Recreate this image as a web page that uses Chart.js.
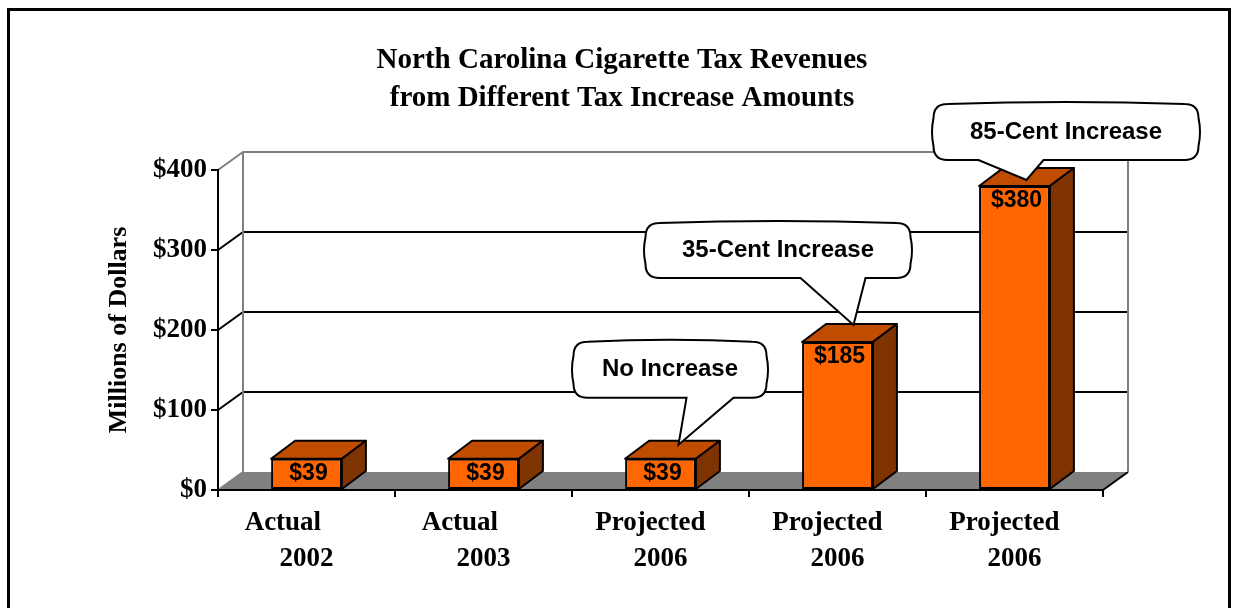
<!DOCTYPE html>
<html lang="en">
<head>
  <meta charset="UTF-8">
  <title>North Carolina Cigarette Tax Revenues</title>
  <script src="https://cdn.jsdelivr.net/npm/chart.js"></script>
  <style>
    body { margin: 0; background: #fff; }
    #wrap { width: 1235px; height: 608px; }
  </style>
</head>
<body>
  <div id="wrap"><canvas id="taxChart"></canvas></div>

  <script>
    // chart data
    const labelTop = ['Actual', 'Actual', 'Projected', 'Projected', 'Projected'];
    const labelYear = ['2002', '2003', '2006', '2006', '2006'];
    const revenues = [39, 39, 39, 185, 380];
    const yMax = 400;
    const yStep = 100;
    const calloutIndex = [2, 3, 4];
    const calloutText = ['No Increase', '35-Cent Increase', '85-Cent Increase'];

    const serif = "'Liberation Serif', 'Times New Roman', serif";
    const sans = "'Liberation Sans', Arial, sans-serif";

    // depth of the 3d look
    const wallDX = 25, wallDY = -18;
    const barDX = 24, barDY = -18;

    // callout placement, relative to the bar top (tip) and to the tip (box)
    const calloutLayout = [
      { tip: [18, -14], box: [-105, -103, 193, 56], tail: [113, 160] },
      { tip: [16, -17], box: [-208, -102, 265, 55], tail: [155, 220] },
      { tip: [12, -6],  box: [-93, -76, 265, 56],   tail: [45, 110] }
    ];

    const threeD = {
      id: 'threeD',
      beforeDraw(chart) {
        const ctx = chart.ctx;
        const a = chart.chartArea;
        const y = chart.scales.y;
        ctx.save();
        // floor
        ctx.fillStyle = '#808080';
        ctx.beginPath();
        ctx.moveTo(a.left, a.bottom);
        ctx.lineTo(a.right, a.bottom);
        ctx.lineTo(a.right + wallDX, a.bottom + wallDY);
        ctx.lineTo(a.left + wallDX, a.bottom + wallDY);
        ctx.closePath();
        ctx.fill();
        ctx.strokeStyle = '#000';
        ctx.lineWidth = 2;
        ctx.beginPath();
        ctx.moveTo(a.right, a.bottom);
        ctx.lineTo(a.right + wallDX, a.bottom + wallDY);
        ctx.stroke();

        // gridlines on the back wall and the side connectors
        for (let v = yStep; v < yMax; v += yStep) {
          const py = y.getPixelForValue(v);
          ctx.beginPath();
          ctx.moveTo(a.left, py);
          ctx.lineTo(a.left + wallDX, py + wallDY);
          ctx.lineTo(a.right + wallDX, py + wallDY);
          ctx.stroke();
        }

        // wall edges
        ctx.strokeStyle = '#808080';
        ctx.beginPath();
        ctx.moveTo(a.left, a.top);
        ctx.lineTo(a.left + wallDX, a.top + wallDY);
        ctx.lineTo(a.right + wallDX, a.top + wallDY);
        ctx.lineTo(a.right + wallDX, a.bottom + wallDY);
        ctx.moveTo(a.left + wallDX, a.top + wallDY);
        ctx.lineTo(a.left + wallDX, a.bottom + wallDY);
        ctx.moveTo(a.left, a.bottom);
        ctx.lineTo(a.left + wallDX, a.bottom + wallDY);
        ctx.stroke();
        ctx.restore();
      },
      afterDatasetsDraw(chart) {
        const ctx = chart.ctx;
        const bars = chart.getDatasetMeta(0).data;
        ctx.save();
        ctx.lineWidth = 2;
        ctx.strokeStyle = '#000';
        ctx.lineJoin = 'round';
        bars.forEach((bar, i) => {
          const L = bar.x - bar.width / 2, R = bar.x + bar.width / 2;
          const T = bar.y, B = bar.base;
          // top face
          ctx.fillStyle = '#C04C00';
          ctx.beginPath();
          ctx.moveTo(L, T);
          ctx.lineTo(L + barDX, T + barDY);
          ctx.lineTo(R + barDX, T + barDY);
          ctx.lineTo(R, T);
          ctx.closePath();
          ctx.fill();
          ctx.stroke();
          // side face
          ctx.fillStyle = '#7F3300';
          ctx.beginPath();
          ctx.moveTo(R, T);
          ctx.lineTo(R + barDX, T + barDY);
          ctx.lineTo(R + barDX, B + barDY);
          ctx.lineTo(R, B);
          ctx.closePath();
          ctx.fill();
          ctx.stroke();
          // value label
          ctx.fillStyle = '#000';
          ctx.font = 'bold 23px ' + sans;
          ctx.textAlign = 'center';
          ctx.textBaseline = 'middle';
          ctx.fillText('$' + revenues[i], bar.x + 2, T + 15);
        });
        ctx.restore();
      },
      afterDraw(chart) {
        const ctx = chart.ctx;
        const bars = chart.getDatasetMeta(0).data;
        ctx.save();
        calloutIndex.forEach((idx, k) => {
          const lay = calloutLayout[k];
          const bar = bars[idx];
          const tipX = bar.x + lay.tip[0], tipY = bar.y + lay.tip[1];
          const bx = tipX + lay.box[0], by = tipY + lay.box[1];
          const w = lay.box[2], h = lay.box[3];
          const r = 14;
          ctx.beginPath();
          ctx.moveTo(bx + r, by);
          ctx.quadraticCurveTo(bx + w / 2, by - 4, bx + w - r, by);
          ctx.quadraticCurveTo(bx + w, by, bx + w, by + r);
          ctx.quadraticCurveTo(bx + w + 3, by + h / 2, bx + w, by + h - r);
          ctx.quadraticCurveTo(bx + w, by + h, bx + w - r, by + h);
          ctx.lineTo(bx + lay.tail[1], by + h);
          ctx.lineTo(tipX, tipY);
          ctx.lineTo(bx + lay.tail[0], by + h);
          ctx.lineTo(bx + r, by + h);
          ctx.quadraticCurveTo(bx, by + h, bx, by + h - r);
          ctx.quadraticCurveTo(bx - 3, by + h / 2, bx, by + r);
          ctx.quadraticCurveTo(bx, by, bx + r, by);
          ctx.closePath();
          ctx.fillStyle = '#fff';
          ctx.fill();
          ctx.lineWidth = 2;
          ctx.strokeStyle = '#000';
          ctx.stroke();
          ctx.fillStyle = '#000';
          ctx.font = 'bold 24px ' + sans;
          ctx.textAlign = 'center';
          ctx.textBaseline = 'middle';
          ctx.fillText(calloutText[k], bx + w / 2, by + h / 2);
        });
        // outer frame (open at the bottom)
        ctx.fillStyle = '#000';
        ctx.fillRect(7, 8, 3, 600);
        ctx.fillRect(7, 8, 1224, 3);
        ctx.fillRect(1228, 8, 3, 600);
        ctx.restore();
      }
    };

    const ctx = document.getElementById('taxChart').getContext('2d');
    new Chart(ctx, {
      type: 'bar',
      data: {
        labels: labelTop.map((t, i) => [t, labelYear[i]]),
        datasets: [{
          data: revenues,
          backgroundColor: '#FF6600',
          borderColor: '#000',
          borderWidth: 2,
          borderSkipped: false,
          categoryPercentage: 1,
          barPercentage: 0.4
        }]
      },
      options: {
        responsive: true,
        maintainAspectRatio: false,
        animation: false,
        layout: { padding: { left: 9, right: 0, top: 0, bottom: 0 } },
        plugins: {
          legend: { display: false },
          tooltip: { enabled: false },
          title: {
            display: true,
            text: ['North Carolina Cigarette Tax Revenues', 'from Different Tax Increase Amounts'],
            color: '#000',
            font: { family: serif, size: 29, weight: 'bold', lineHeight: 38 / 29 },
            padding: { top: 42, bottom: 52 }
          }
        },
        scales: {
          x: {
            grid: { drawOnChartArea: false, tickLength: 7, color: '#000', lineWidth: 2 },
            border: { display: true, color: '#000', width: 2 },
            ticks: {
              color: '#000',
              padding: 8,
              maxRotation: 0,
              autoSkip: false,
              font: { family: serif, size: 27, weight: 'bold', lineHeight: 36 / 27 },
              callback: (v, i) => [labelTop[i] + (labelTop[i] === 'Actual' ? '       ' : '   '), labelYear[i]]
            },
            afterFit(scale) { scale.height = 118; }
          },
          y: {
            min: 0,
            max: yMax,
            grid: { drawOnChartArea: false, tickLength: 7, color: '#000', lineWidth: 2 },
            border: { display: true, color: '#000', width: 2 },
            ticks: {
              stepSize: yStep,
              color: '#000',
              padding: 4,
              font: { family: serif, size: 27, weight: 'bold' },
              callback: v => '$' + v
            },
            title: {
              display: true,
              text: 'Millions of Dollars',
              color: '#000',
              font: { family: serif, size: 26, weight: 'bold', lineHeight: 1.2 },
              padding: { top: 95, bottom: 0 }
            },
            afterFit(scale) { scale.width = 209; }
          },
          // empty space on the right of the plot
          yRight: {
            position: 'right',
            grid: { display: false },
            border: { display: false },
            ticks: { display: false },
            afterFit(scale) { scale.width = 132; }
          }
        }
      },
      plugins: [threeD]
    });
  </script>
</body>
</html>
